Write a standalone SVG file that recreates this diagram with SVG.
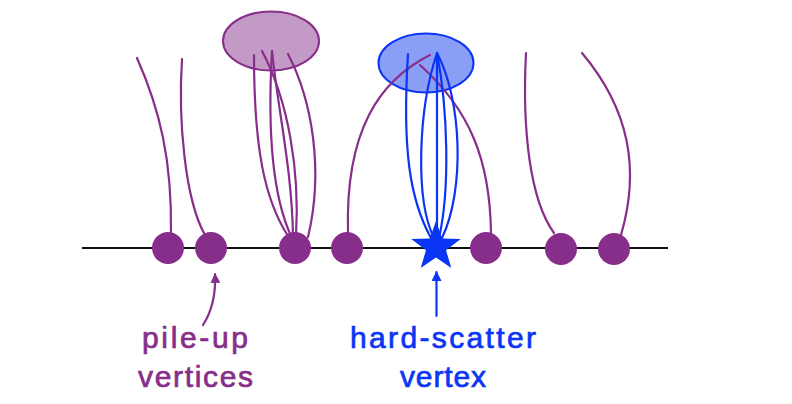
<svg xmlns="http://www.w3.org/2000/svg" width="792" height="404" viewBox="0 0 792 404">
<style>
.pt{fill:none;stroke:#872e8a;stroke-width:2.2;stroke-linecap:round}
.bt{fill:none;stroke:#0b35f4;stroke-width:2.2;stroke-linecap:round}
.pv{fill:#872e8a}
.lbl{font-family:"Liberation Sans",Arial,sans-serif;font-size:30px;text-anchor:middle;stroke-width:0.7}
</style>
<defs>
<marker id="ap" viewBox="0 0 10 10" refX="9" refY="5" markerWidth="10" markerHeight="10" markerUnits="userSpaceOnUse" orient="auto">
<path d="M0,0 L10,5 L0,10 z" fill="#872e8a"/>
</marker>
<marker id="ab" viewBox="0 0 10 10" refX="9" refY="5" markerWidth="10" markerHeight="10" markerUnits="userSpaceOnUse" orient="auto">
<path d="M0,0 L10,5 L0,10 z" fill="#0b35f4"/>
</marker>
</defs>
<rect width="792" height="404" fill="#ffffff"/>
<g id="beamline">
<line x1="82" y1="248" x2="668" y2="248" stroke="#111" stroke-width="2"/>
</g>
<g id="jet-pileup">
<ellipse cx="271" cy="41" rx="48" ry="29.5" fill="#c39ac6" stroke="#872e8a" stroke-width="2"/>
</g>
<g id="jet-hardscatter">
<ellipse cx="426" cy="63" rx="47.5" ry="29.5" fill="#8a9ef5" stroke="#0b35f4" stroke-width="2"/>
</g>
<g id="connectors">
<path class="pt" d="M171,233 C172,160 160,110 137,58"/>
<path class="pt" d="M205,235 C185,200 178,120 182,59"/>
<path class="pt" d="M254,55 C254,150 265,200 288,236"/>
<path class="pt" d="M262,51 C288,100 300,170 296,236"/>
<path class="pt" d="M272,51 C268,120 270,190 291,236"/>
<path class="pt" d="M272,51 C278,110 292,170 293,236"/>
<path class="pt" d="M288,54 C312,100 324,170 308,237"/>
<path class="pt" d="M348,233 C345,130 380,80 430,55"/>
<path class="pt" d="M491,233 C490,160 470,110 420,65"/>
<path class="pt" d="M554,233 C530,200 522,130 526,53"/>
<path class="pt" d="M621,235 C640,170 630,110 582,53"/>
<path class="bt" d="M408,54 C402,150 410,200 431,238"/>
<path class="bt" d="M437,53 C418,110 415,200 434,238"/>
<path class="bt" d="M437,53 L437,238"/>
<path class="bt" d="M437,53 C448,110 450,190 439,238"/>
<path class="bt" d="M437,53 C462,100 465,190 442,238"/>
<path class="pt" d="M203,325 C212,311 216,296 215,274" marker-end="url(#ap)"/>
<path class="bt" d="M436.5,316 L436.5,272" marker-end="url(#ab)"/>
</g>
<g id="pileup-vertices">
<circle class="pv" cx="168" cy="248" r="16"/>
<circle class="pv" cx="211" cy="248" r="16"/>
<circle class="pv" cx="295" cy="248" r="16"/>
<circle class="pv" cx="347" cy="248" r="16"/>
<circle class="pv" cx="486" cy="248" r="16"/>
<circle class="pv" cx="561" cy="249" r="16"/>
<circle class="pv" cx="614" cy="249" r="16"/>
</g>
<g id="hardscatter-vertex">
<polygon fill="#0b35f4" points="436,221 442.2,238.5 460.7,239 446,250.2 451.3,268 436,257.5 420.7,268 426,250.2 411.3,239 429.8,238.5"/>
</g>
<g id="label-pileup">
<text class="lbl" fill="#872e8a" stroke="#872e8a" x="195" y="348" textLength="106" lengthAdjust="spacing">pile-up</text>
<text class="lbl" fill="#872e8a" stroke="#872e8a" x="195.5" y="387" textLength="115" lengthAdjust="spacing">vertices</text>
</g>
<g id="label-hardscatter">
<text class="lbl" fill="#0b35f4" stroke="#0b35f4" x="443" y="348" textLength="186" lengthAdjust="spacing">hard-scatter</text>
<text class="lbl" fill="#0b35f4" stroke="#0b35f4" x="443" y="387" textLength="86" lengthAdjust="spacing">vertex</text>
</g>
</svg>
